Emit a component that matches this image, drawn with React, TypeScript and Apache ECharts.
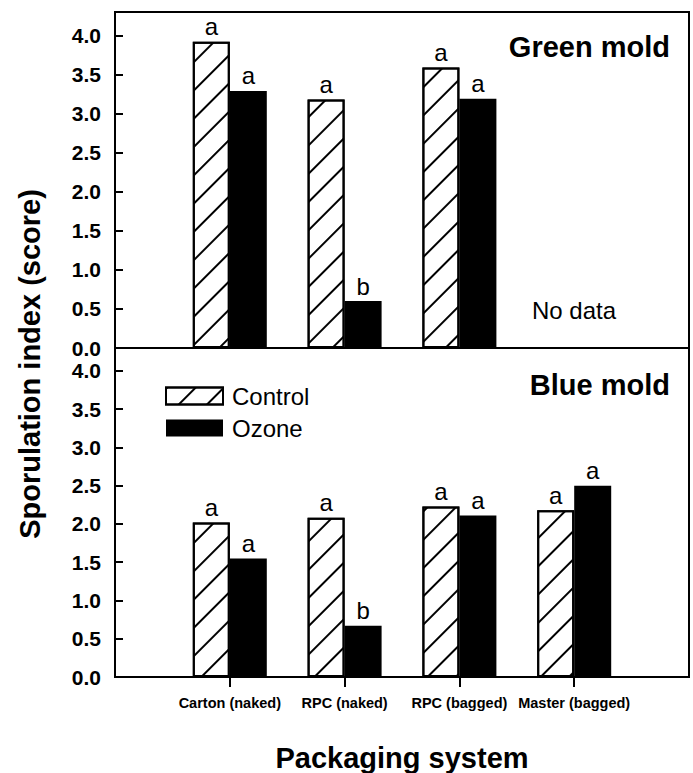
import React, { useEffect, useRef } from "react";
import * as echarts from "echarts";

const categories = ["Carton (naked)", "RPC (naked)", "RPC (bagged)", "Master (bagged)"];
const positions = [1, 2, 3, 4];
const greenControl = [3.92, 3.18, 3.59];
const greenOzone = [3.29, 0.6, 3.19];
const greenControlLetters = ["a", "a", "a"];
const greenOzoneLetters = ["a", "b", "a"];
const blueControl = [2.02, 2.08, 2.23, 2.18];
const blueOzone = [1.55, 0.67, 2.11, 2.5];
const blueControlLetters = ["a", "a", "a", "a"];
const blueOzoneLetters = ["a", "b", "a", "a"];
const yMax = 4.3;
const yInterval = 0.5;

const FONT = "Liberation Sans, Arial, Helvetica, sans-serif";

export default function App() {
  const ref = useRef<HTMLDivElement>(null);
  useEffect(() => {
    if (!ref.current) return;
    const chart = echarts.init(ref.current, null, { renderer: "svg" });
    const hatch = {
      symbol: "rect",
      symbolSize: 1,
      dashArrayX: [1, 0],
      dashArrayY: [2, 18],
      rotation: -Math.PI / 4,
      color: "#000",
    };
    const controlStyle = { color: "#fff", borderColor: "#000", borderWidth: 2, decal: hatch };
    const ozoneStyle = { color: "#000", borderColor: "#000", borderWidth: 0 };
    const pairs = (vals: number[]) => vals.map((v, i) => [positions[i], v]);
    const letterLabel = (letters: string[]) => ({
      show: true,
      position: "top",
      distance: 3,
      fontSize: 24,
      fontFamily: FONT,
      color: "#000",
      formatter: (p: any) => letters[p.dataIndex],
    });
    const yAxisBase = (gridIndex: number) => ({
      type: "value",
      gridIndex,
      min: 0,
      max: yMax,
      interval: yInterval,
      z: 5,
      axisLine: { show: true, lineStyle: { color: "#000", width: 2 } },
      axisTick: { show: true, inside: true, length: 8, lineStyle: { color: "#000", width: 2 } },
      axisLabel: {
        margin: 14,
        fontSize: 21,
        fontWeight: "bold",
        fontFamily: FONT,
        color: "#000",
        formatter: (v: number) => (v > 4.01 ? "" : v.toFixed(1)),
      },
      splitLine: { show: false },
    });
    const option: any = {
      animation: false,
      backgroundColor: "#fff",
      grid: [
        { left: 115, top: 12, width: 574, height: 336, show: true, borderColor: "#000", borderWidth: 2 },
        { left: 115, top: 348, width: 574, height: 334, show: true, borderColor: "#000", borderWidth: 2 },
      ],
      xAxis: [
        {
          type: "value",
          gridIndex: 0,
          min: 0,
          max: 5,
          interval: 1,
          z: 5,
          axisLine: { show: true, lineStyle: { color: "#000", width: 2 } },
          axisTick: { show: false },
          axisLabel: { show: false },
          splitLine: { show: false },
        },
        {
          type: "value",
          gridIndex: 1,
          min: 0,
          max: 5,
          interval: 1,
          z: 5,
          axisLine: { show: true, lineStyle: { color: "#000", width: 2 } },
          axisTick: {
            show: true,
            inside: false,
            length: 10,
            customValues: positions,
            lineStyle: { color: "#000", width: 2 },
          },
          axisLabel: {
            show: true,
            customValues: positions,
            margin: 18,
            fontSize: 14.5,
            fontWeight: "bold",
            fontFamily: FONT,
            color: "#000",
            formatter: (v: number) => categories[Math.round(v) - 1] ?? "",
          },
          splitLine: { show: false },
          name: "Packaging system",
          nameLocation: "middle",
          nameGap: 66,
          nameTextStyle: { fontSize: 29, fontWeight: "bold", fontFamily: FONT, color: "#000" },
        },
      ],
      yAxis: [yAxisBase(0), yAxisBase(1)],
      legend: {
        show: true,
        orient: "vertical",
        left: 160,
        top: 379,
        itemWidth: 57,
        itemHeight: 17,
        itemGap: 8,
        icon: "rect",
        data: ["Control", "Ozone"],
        textStyle: { fontSize: 24, fontFamily: FONT, color: "#000", padding: [0, 0, 0, 4] },
        selectedMode: false,
      },
      series: [
        {
          name: "Control",
          type: "bar",
          xAxisIndex: 0,
          yAxisIndex: 0,
          barWidth: 37,
          barGap: "0%",
          itemStyle: controlStyle,
          label: letterLabel(greenControlLetters),
          data: pairs(greenControl),
        },
        {
          name: "Ozone",
          type: "bar",
          xAxisIndex: 0,
          yAxisIndex: 0,
          barWidth: 37,
          barGap: "0%",
          itemStyle: ozoneStyle,
          label: letterLabel(greenOzoneLetters),
          data: pairs(greenOzone),
        },
        {
          name: "Control",
          type: "bar",
          xAxisIndex: 1,
          yAxisIndex: 1,
          barWidth: 37,
          barGap: "0%",
          itemStyle: controlStyle,
          label: letterLabel(blueControlLetters),
          data: pairs(blueControl),
        },
        {
          name: "Ozone",
          type: "bar",
          xAxisIndex: 1,
          yAxisIndex: 1,
          barWidth: 37,
          barGap: "0%",
          itemStyle: ozoneStyle,
          label: letterLabel(blueOzoneLetters),
          data: pairs(blueOzone),
        },
      ],
      graphic: [
        {
          type: "text",
          x: 30,
          y: 364,
          rotation: Math.PI / 2,
          style: {
            text: "Sporulation index (score)",
            font: `bold 29px ${FONT}`,
            fill: "#000",
            textAlign: "center",
            textVerticalAlign: "middle",
          },
        },
        {
          type: "text",
          x: 670,
          y: 47,
          style: {
            text: "Green mold",
            font: `bold 29px ${FONT}`,
            fill: "#000",
            textAlign: "right",
            textVerticalAlign: "middle",
          },
        },
        {
          type: "text",
          x: 670,
          y: 385,
          style: {
            text: "Blue mold",
            font: `bold 29px ${FONT}`,
            fill: "#000",
            textAlign: "right",
            textVerticalAlign: "middle",
          },
        },
        {
          type: "text",
          x: 574,
          y: 310,
          style: {
            text: "No data",
            font: `24px ${FONT}`,
            fill: "#000",
            textAlign: "center",
            textVerticalAlign: "middle",
          },
        },
      ],
    };
    chart.setOption(option);
    return () => chart.dispose();
  }, []);
  return (
    <div
      ref={ref}
      style={{ position: "fixed", left: 0, top: 0, width: 693, height: 773 }}
    />
  );
}
